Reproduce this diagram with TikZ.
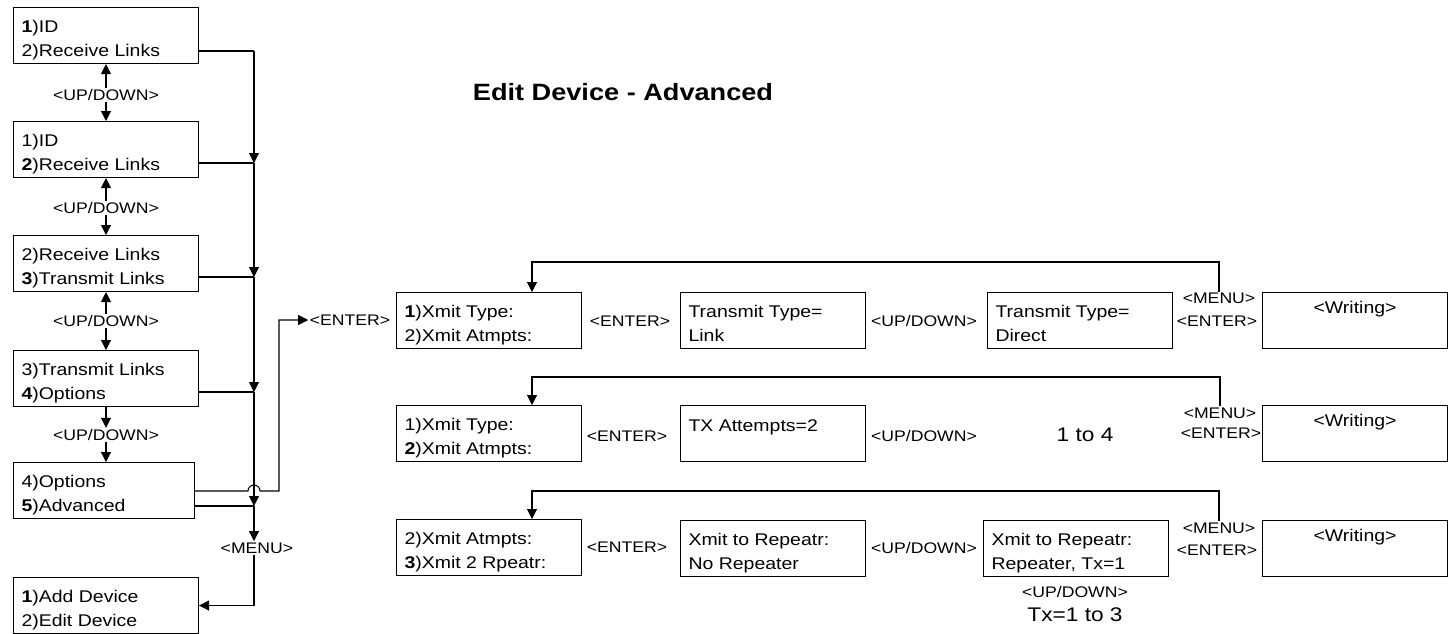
\documentclass[tikz,border=0pt]{standalone}
\usepackage{fontspec}
\setmainfont{Liberation Sans}[FakeStretch=1.15]
\usetikzlibrary{arrows.meta}
\newcommand\boxtext[3][18.4pt]{\parbox[c][42pt][t]{#2}{\rule{0pt}{#1}#3}}
\begin{document}
\begin{tikzpicture}[x=0.75pt,y=-0.75pt,
  bx/.style={draw, line width=0.8pt, anchor=north west, inner xsep=6pt, inner ysep=0pt, font=\fontsize{12.7}{18}\selectfont},
  lbl/.style={inner sep=1pt, font=\fontsize{11.5}{13}\selectfont},
  big/.style={inner sep=1pt, font=\fontsize{14.8}{17}\selectfont},
  ttl/.style={inner sep=1pt, font=\fontsize{17.7}{21}\selectfont\bfseries},
  con/.style={line width=0.8pt},
  arr/.style={con, -{Triangle[length=7.5pt,width=7.5pt]}}]
\path[fill=white, use as bounding box] (0,0) rectangle (1454,633);

% title
\node[ttl] (title) at (623,92.5) {Edit Device - Advanced};

% left column
\node[bx] (L1) at (13,7)   {\boxtext{126.75pt}{\textbf{1})ID\\2)Receive Links}};
\node[bx] (L2) at (13,121) {\boxtext{126.75pt}{1)ID\\\textbf{2})Receive Links}};
\node[bx] (L3) at (13,235) {\boxtext{126.75pt}{2)Receive Links\\\textbf{3})Transmit Links}};
\node[bx] (L4) at (13,350) {\boxtext{126.75pt}{3)Transmit Links\\\textbf{4})Options}};
\node[bx] (L5) at (13,462) {\boxtext{123.75pt}{4)Options\\\textbf{5})Advanced}};
\node[bx] (L6) at (13,577) {\boxtext{126.75pt}{\textbf{1})Add Device\\2)Edit Device}};

\node[lbl] (UD1) at (106,95)  {<UP/DOWN>};
\node[lbl] (UD2) at (106,208) {<UP/DOWN>};
\node[lbl] (UD3) at (106,321) {<UP/DOWN>};
\node[lbl] (UD4) at (106,435) {<UP/DOWN>};

\draw[arr] (UD1.north) -- (UD1.north |- L1.south);
\draw[arr] (UD1.south) -- (UD1.south |- L2.north);
\draw[arr] (UD2.north) -- (UD2.north |- L2.south);
\draw[arr] (UD2.south) -- (UD2.south |- L3.north);
\draw[arr] (UD3.north) -- (UD3.north |- L3.south);
\draw[arr] (UD3.south) -- (UD3.south |- L4.north);
\draw[arr] (UD4.north |- L4.south) -- (UD4.north);
\draw[arr] (UD4.south) -- (UD4.south |- L5.north);

% bus
\coordinate (b1) at (254,51);
\coordinate (b2) at (254,163);
\coordinate (b3) at (254,277);
\coordinate (b4) at (254,392);
\coordinate (b5) at (254,506);
\draw[con] (L1.east |- b1) -- (b1);
\draw[con] (L2.east |- b2) -- (b2);
\draw[con] (L3.east |- b3) -- (b3);
\draw[con] (L4.east |- b4) -- (b4);
\draw[con] (L5.east |- b5) -- (b5);
\draw[arr] (b1) -- (b2);
\draw[arr] (b2) -- (b3);
\draw[arr] (b3) -- (b4);
\draw[arr] (b4) -- (b5);
\node[lbl] (menu) at (257,548) {<MENU>};
\draw[arr] (b5) -- (b5 |- menu.north);
\draw[arr] (b5 |- menu.south) |- (L6.east);

% jump to advanced
\node[lbl] (en0) at (350,320) {<ENTER>};
\coordinate (hopL) at (248,491);
\coordinate (h1) at (279,491);
\draw[arr] (L5.east |- hopL) -- (hopL) arc (180:0:4.5pt) -- (h1) |- (en0.west);

% row 1
\node[bx] (A) at (396,292) {\boxtext{126.75pt}{\textbf{1})Xmit Type:\\2)Xmit Atmpts:}};
\node[bx] (B) at (680,292) {\boxtext{126.75pt}{Transmit Type=\\Link}};
\node[bx] (C) at (987,292) {\boxtext{126.75pt}{Transmit Type=\\Direct}};
\node[bx] (D) at (1262,292) {\boxtext[15.75pt]{126.75pt}{\centering <Writing>}};
\node[lbl] (en1) at (630,321) {<ENTER>};
\node[lbl] (ud1r) at (924,321) {<UP/DOWN>};
\node[lbl] (mn1) at (1219,298.5) {<MENU>};
\node[lbl] (ent1) at (1217,321) {<ENTER>};
\coordinate (lp1) at (532,262);
\draw[arr] (mn1.north) |- (lp1) -- (lp1 |- A.north);

% row 2
\node[bx] (E) at (396,405) {\boxtext{126.75pt}{1)Xmit Type:\\\textbf{2})Xmit Atmpts:}};
\node[bx] (F) at (680,405) {\boxtext[19.5pt]{126.75pt}{TX Attempts=2}};
\node[bx] (G) at (1262,405) {\boxtext[15.75pt]{126.75pt}{\centering <Writing>}};
\node[lbl] (en2) at (627,436) {<ENTER>};
\node[lbl] (ud2r) at (924,436) {<UP/DOWN>};
\node[big] (rng) at (1085,435) {1 to 4};
\node[lbl] (mn2) at (1220,413) {<MENU>};
\node[lbl] (ent2) at (1221,433) {<ENTER>};
\coordinate (lp2) at (532,377);
\draw[arr] (mn2.north) |- (lp2) -- (lp2 |- E.north);

% row 3
\node[bx] (H) at (396,519) {\boxtext{126.75pt}{2)Xmit Atmpts:\\\textbf{3})Xmit 2 Rpeatr:}};
\node[bx] (I) at (680,520) {\boxtext{126.75pt}{Xmit to Repeatr:\\No Repeater}};
\node[bx] (J) at (983,520) {\boxtext{126.75pt}{Xmit to Repeatr:\\Repeater, Tx=1}};
\node[bx] (K) at (1262,520) {\boxtext[15.75pt]{126.75pt}{\centering <Writing>}};
\node[lbl] (en3) at (627,547) {<ENTER>};
\node[lbl] (ud3r) at (924,548) {<UP/DOWN>};
\node[lbl] (mn3) at (1219,528) {<MENU>};
\node[lbl] (ent3) at (1217,550) {<ENTER>};
\node[lbl] (udJ) at (1075,592) {<UP/DOWN>};
\node[big] (txr) at (1075,615) {Tx=1 to 3};
\coordinate (lp3) at (532,491);
\draw[arr] (mn3.north) |- (lp3) -- (lp3 |- H.north);
\end{tikzpicture}
\end{document}
